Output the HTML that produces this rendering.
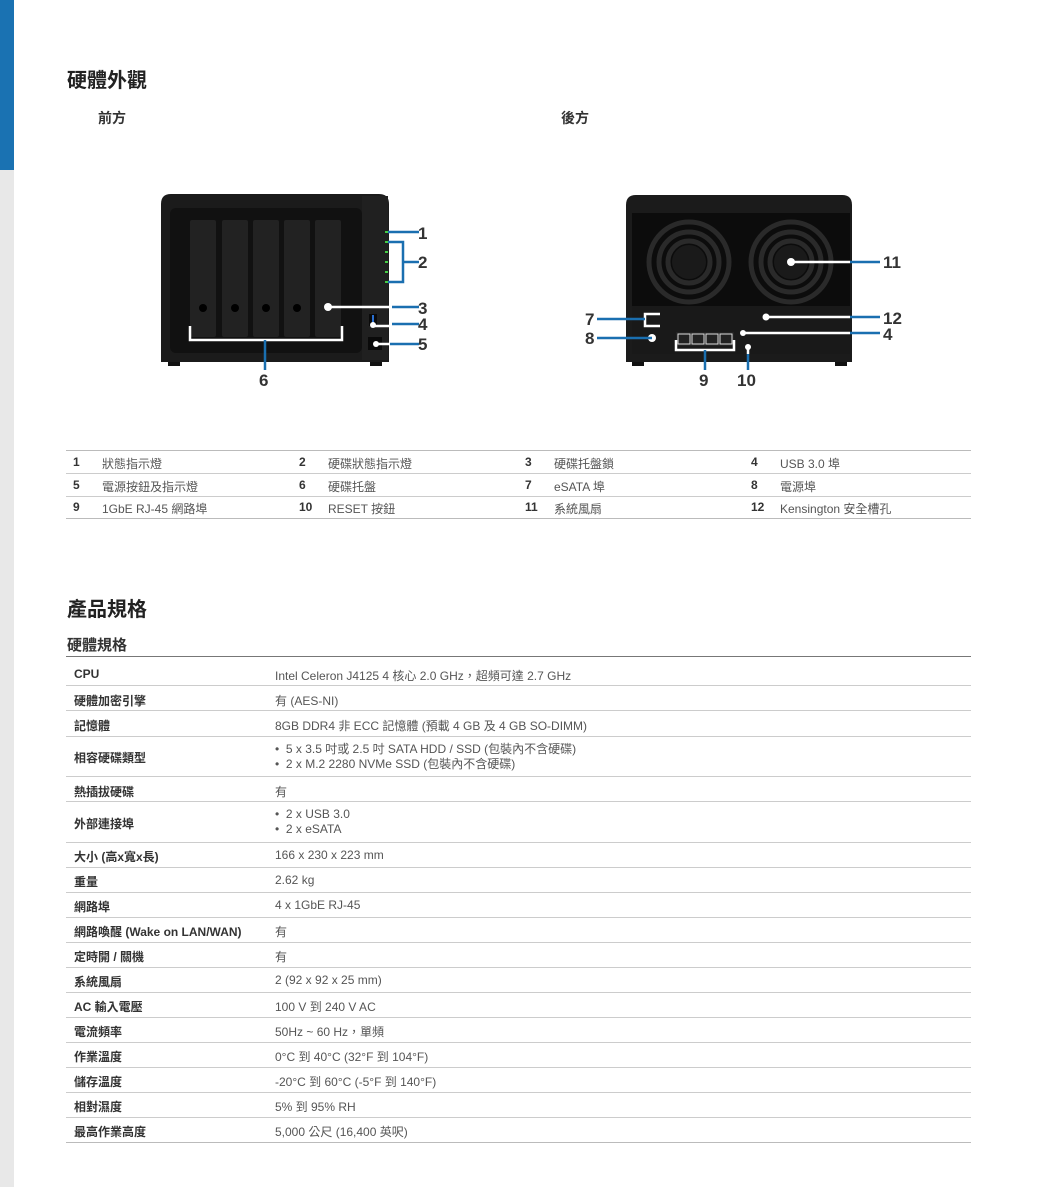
<!DOCTYPE html>
<html><head><meta charset="utf-8"><style>
*{margin:0;padding:0;box-sizing:border-box}
body{width:1040px;height:1187px;background:#fff;position:relative;overflow:hidden;font-family:"Liberation Sans","Noto Sans CJK TC",sans-serif;color:#333}
.a{position:absolute;white-space:nowrap}
.sb{position:absolute;left:0;top:0;width:14px;height:1187px;background:#e8e8e8}
.sb div{height:170px;background:#1a72b2}
.h1{font-size:20px;font-weight:bold;color:#222}
.h2{font-size:14px;font-weight:bold;color:#333}
.hl{position:absolute;left:66px;width:905px;height:1px;background:#ccc}
.pt{font-size:12px;color:#555}
.pn{font-weight:bold;color:#333}
.sl{font-size:12px;font-weight:bold;color:#333}
.sv{font-size:12px;color:#555}
</style></head><body>
<div class="sb"><div></div></div>
<div class="a h1" style="left:67px;top:64px">硬體外觀</div>
<div class="a h2" style="left:98px;top:108px">前方</div>
<div class="a h2" style="left:561px;top:108px">後方</div>

<svg class="a" style="left:0;top:0" width="1040" height="400">
<rect x="168" y="360" width="12" height="6" fill="#111"/><rect x="370" y="360" width="12" height="6" fill="#111"/>
<path d="M171 194 H379 Q389 194 389 204 V362 H161 V204 Q161 194 171 194Z" fill="#1b1b1b"/>
<rect x="170" y="208" width="192" height="145" rx="6" fill="#111"/>
<rect x="362" y="196" width="26" height="164" fill="#202020"/>
<g fill="#222"><rect x="190" y="220" width="26" height="117" rx="2"/><rect x="222" y="220" width="26" height="117" rx="2"/><rect x="253" y="220" width="26" height="117" rx="2"/><rect x="284" y="220" width="26" height="117" rx="2"/><rect x="315" y="220" width="26" height="117" rx="2"/></g>
<g fill="#000"><circle cx="203" cy="308" r="4"/><circle cx="235" cy="308" r="4"/><circle cx="266" cy="308" r="4"/><circle cx="297" cy="308" r="4"/></g>
<g fill="#4c4"><rect x="385" y="231" width="3" height="2"/><rect x="385" y="241" width="3" height="2"/><rect x="385" y="251" width="3" height="2"/><rect x="385" y="261" width="3" height="2"/><rect x="385" y="271" width="3" height="2"/><rect x="385" y="281" width="3" height="2"/></g>
<rect x="369" y="314" width="8" height="12" fill="#0a0a0a"/><rect x="372" y="315" width="2" height="8" fill="#2a6fd0"/>
<rect x="368" y="337" width="14" height="13" fill="#0a0a0a"/>
<g stroke="#fff" stroke-width="2.5" fill="none">
<path d="M190 326 V340 H342 V326"/><path d="M328 307 H392"/><path d="M373 326 H392"/><path d="M376 344 H390"/>
</g>
<g fill="#fff"><circle cx="328" cy="307" r="4"/><circle cx="373" cy="325" r="3"/><circle cx="376" cy="344" r="3"/></g>
<g stroke="#1a6fb0" stroke-width="2.5" fill="none">
<path d="M388 232 H419"/><path d="M388 242 H403 V282 H388"/><path d="M403 262 H419"/>
<path d="M392 307 H419"/><path d="M392 324 H419"/><path d="M390 344 H419"/><path d="M265 340 V370"/>
</g>
<g font-family="Liberation Sans,sans-serif" font-weight="bold" font-size="17" fill="#333">
<text x="418" y="239">1</text><text x="418" y="268">2</text><text x="418" y="314">3</text><text x="418" y="330">4</text><text x="418" y="350">5</text><text x="259" y="386">6</text>
</g>
<rect x="632" y="360" width="12" height="6" fill="#111"/><rect x="835" y="360" width="12" height="6" fill="#111"/>
<path d="M636 195 H842 Q852 195 852 205 V362 H626 V205 Q626 195 636 195Z" fill="#1b1b1b"/>
<rect x="632" y="213" width="218" height="93" fill="#0c0c0c"/>
<g fill="none" stroke="#2a2a2a" stroke-width="5">
<circle cx="689" cy="262" r="40"/><circle cx="689" cy="262" r="30"/><circle cx="689" cy="262" r="21"/>
<circle cx="791" cy="262" r="40"/><circle cx="791" cy="262" r="30"/><circle cx="791" cy="262" r="21"/>
</g>
<g fill="#1a1a1a"><circle cx="689" cy="262" r="17"/><circle cx="791" cy="262" r="17"/></g>
<rect x="632" y="306" width="218" height="48" fill="#191919"/>
<rect x="676" y="332" width="58" height="14" fill="#222"/>
<g fill="none" stroke="#ddd" stroke-width="1"><rect x="678" y="334" width="12" height="10"/><rect x="692" y="334" width="12" height="10"/><rect x="706" y="334" width="12" height="10"/><rect x="720" y="334" width="12" height="10"/></g>
<g stroke="#fff" stroke-width="2.5" fill="none">
<path d="M791 262 H850"/><path d="M660 314 H645 V326 H660"/><path d="M676 340 V350 H734 V340"/>
<path d="M766 317 H850"/><path d="M743 333 H850"/><path d="M748 347 V354"/>
</g>
<g fill="#fff"><circle cx="791" cy="262" r="4"/><circle cx="652" cy="338" r="4"/><circle cx="766" cy="317" r="3.5"/><circle cx="743" cy="333" r="3"/><circle cx="748" cy="347" r="3"/></g>
<g stroke="#1a6fb0" stroke-width="2.5" fill="none">
<path d="M850 262 H880"/><path d="M597 319 H645"/><path d="M597 338 H652"/><path d="M705 350 V370"/><path d="M748 354 V370"/>
<path d="M850 317 H880"/><path d="M850 333 H880"/>
</g>
<g font-family="Liberation Sans,sans-serif" font-weight="bold" font-size="17" fill="#333">
<text x="883" y="268">11</text><text x="883" y="324">12</text><text x="883" y="340">4</text><text x="585" y="325">7</text><text x="585" y="344">8</text><text x="699" y="386">9</text><text x="737" y="386">10</text>
</g>
</svg>

<div class="hl" style="top:450px;background:#bbb"></div>
<div class="hl" style="top:473px"></div>
<div class="hl" style="top:496px"></div>
<div class="hl" style="top:518px;background:#bbb"></div>
<div class="a pt" style="left:73px;top:455px"><span class="pn">1</span></div><div class="a pt" style="left:102px;top:455px">狀態指示燈</div>
<div class="a pt" style="left:299px;top:455px"><span class="pn">2</span></div><div class="a pt" style="left:328px;top:455px">硬碟狀態指示燈</div>
<div class="a pt" style="left:525px;top:455px"><span class="pn">3</span></div><div class="a pt" style="left:554px;top:455px">硬碟托盤鎖</div>
<div class="a pt" style="left:751px;top:455px"><span class="pn">4</span></div><div class="a pt" style="left:780px;top:455px">USB 3.0 埠</div>
<div class="a pt" style="left:73px;top:478px"><span class="pn">5</span></div><div class="a pt" style="left:102px;top:478px">電源按鈕及指示燈</div>
<div class="a pt" style="left:299px;top:478px"><span class="pn">6</span></div><div class="a pt" style="left:328px;top:478px">硬碟托盤</div>
<div class="a pt" style="left:525px;top:478px"><span class="pn">7</span></div><div class="a pt" style="left:554px;top:478px">eSATA 埠</div>
<div class="a pt" style="left:751px;top:478px"><span class="pn">8</span></div><div class="a pt" style="left:780px;top:478px">電源埠</div>
<div class="a pt" style="left:73px;top:500px"><span class="pn">9</span></div><div class="a pt" style="left:102px;top:500px">1GbE RJ-45 網路埠</div>
<div class="a pt" style="left:299px;top:500px"><span class="pn">10</span></div><div class="a pt" style="left:328px;top:500px">RESET 按鈕</div>
<div class="a pt" style="left:525px;top:500px"><span class="pn">11</span></div><div class="a pt" style="left:554px;top:500px">系統風扇</div>
<div class="a pt" style="left:751px;top:500px"><span class="pn">12</span></div><div class="a pt" style="left:780px;top:500px">Kensington 安全槽孔</div>

<div class="a h1" style="left:67px;top:593px">產品規格</div>
<div class="a h2" style="left:67px;top:634px;font-size:15px">硬體規格</div>
<div class="hl" style="top:656px;background:#777"></div>

<div class="hl" style="top:685px"></div><div class="hl" style="top:710px"></div><div class="hl" style="top:736px"></div><div class="hl" style="top:776px"></div><div class="hl" style="top:801px"></div><div class="hl" style="top:842px"></div><div class="hl" style="top:867px"></div><div class="hl" style="top:892px"></div><div class="hl" style="top:917px"></div><div class="hl" style="top:942px"></div><div class="hl" style="top:967px"></div><div class="hl" style="top:992px"></div><div class="hl" style="top:1017px"></div><div class="hl" style="top:1042px"></div><div class="hl" style="top:1067px"></div><div class="hl" style="top:1092px"></div><div class="hl" style="top:1117px"></div><div class="hl" style="top:1142px;background:#bbb"></div>

<div class="a sl" style="left:74px;top:667px">CPU</div><div class="a sv" style="left:275px;top:667px">Intel Celeron J4125 4 核心 2.0 GHz，超頻可達 2.7 GHz</div>
<div class="a sl" style="left:74px;top:692px">硬體加密引擎</div><div class="a sv" style="left:275px;top:692px">有 (AES-NI)</div>
<div class="a sl" style="left:74px;top:717px">記憶體</div><div class="a sv" style="left:275px;top:717px">8GB DDR4 非 ECC 記憶體 (預載 4 GB 及 4 GB SO-DIMM)</div>
<div class="a sl" style="left:74px;top:749px">相容硬碟類型</div><div class="a sv" style="left:275px;top:742px;line-height:15px">•&nbsp; 5 x 3.5 吋或 2.5 吋 SATA HDD / SSD (包裝內不含硬碟)<br>•&nbsp; 2 x M.2 2280 NVMe SSD (包裝內不含硬碟)</div>
<div class="a sl" style="left:74px;top:783px">熱插拔硬碟</div><div class="a sv" style="left:275px;top:783px">有</div>
<div class="a sl" style="left:74px;top:815px">外部連接埠</div><div class="a sv" style="left:275px;top:807px;line-height:15px">•&nbsp; 2 x USB 3.0<br>•&nbsp; 2 x eSATA</div>
<div class="a sl" style="left:74px;top:848px">大小 (高x寬x長)</div><div class="a sv" style="left:275px;top:848px">166 x 230 x 223 mm</div>
<div class="a sl" style="left:74px;top:873px">重量</div><div class="a sv" style="left:275px;top:873px">2.62 kg</div>
<div class="a sl" style="left:74px;top:898px">網路埠</div><div class="a sv" style="left:275px;top:898px">4 x 1GbE RJ-45</div>
<div class="a sl" style="left:74px;top:923px">網路喚醒 (Wake on LAN/WAN)</div><div class="a sv" style="left:275px;top:923px">有</div>
<div class="a sl" style="left:74px;top:948px">定時開 / 關機</div><div class="a sv" style="left:275px;top:948px">有</div>
<div class="a sl" style="left:74px;top:973px">系統風扇</div><div class="a sv" style="left:275px;top:973px">2 (92 x 92 x 25 mm)</div>
<div class="a sl" style="left:74px;top:998px">AC 輸入電壓</div><div class="a sv" style="left:275px;top:998px">100 V 到 240 V AC</div>
<div class="a sl" style="left:74px;top:1023px">電流頻率</div><div class="a sv" style="left:275px;top:1023px">50Hz ~ 60 Hz，單頻</div>
<div class="a sl" style="left:74px;top:1048px">作業溫度</div><div class="a sv" style="left:275px;top:1048px">0°C 到 40°C (32°F 到 104°F)</div>
<div class="a sl" style="left:74px;top:1073px">儲存溫度</div><div class="a sv" style="left:275px;top:1073px">-20°C 到 60°C (-5°F 到 140°F)</div>
<div class="a sl" style="left:74px;top:1098px">相對濕度</div><div class="a sv" style="left:275px;top:1098px">5% 到 95% RH</div>
<div class="a sl" style="left:74px;top:1123px">最高作業高度</div><div class="a sv" style="left:275px;top:1123px">5,000 公尺 (16,400 英呎)</div>
</body></html>
